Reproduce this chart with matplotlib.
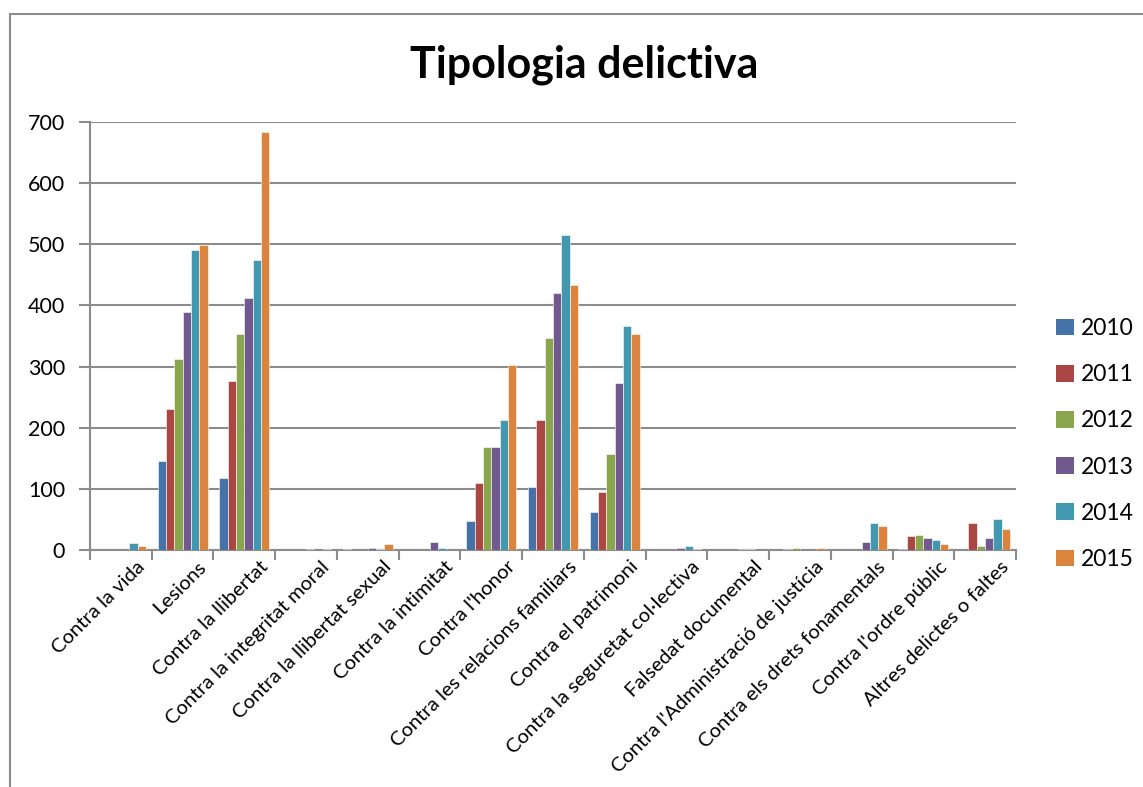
import matplotlib
matplotlib.use("Agg")
import matplotlib.pyplot as plt
import numpy as np
from matplotlib.patches import Rectangle, Patch
from matplotlib.transforms import ScaledTranslation

categories = ["Contra la vida", "Lesions", "Contra la llibertat", "Contra la integritat moral",
              "Contra la llibertat sexual", "Contra la intimitat", "Contra l'honor",
              "Contra les relacions familiars", "Contra el patrimoni",
              "Contra la seguretat col·lectiva", "Falsedat documental",
              "Contra l'Administració de justícia", "Contra els drets fonamentals",
              "Contra l'ordre públic", "Altres delictes o faltes"]
years = ["2010", "2011", "2012", "2013", "2014", "2015"]
v2010 = [0, 145, 117, 0, 2, 0, 47, 103, 62, 0, 0, 0, 0, 2, 0]
v2011 = [0, 230, 277, 0, 0, 0, 109, 213, 95, 0, 0, 1, 0, 23, 44]
v2012 = [0, 313, 354, 0, 0, 0, 168, 347, 157, 0, 0, 4, 0, 25, 7]
v2013 = [0, 389, 412, 1, 4, 13, 168, 421, 273, 4, 2, 0, 13, 20, 20]
v2014 = [12, 490, 474, 0, 2, 3, 213, 516, 367, 7, 1, 0, 44, 16, 51]
v2015 = [7, 499, 683, 1, 9, 0, 303, 433, 353, 2, 0, 4, 40, 10, 35]
series = [v2010, v2011, v2012, v2013, v2014, v2015]
colors = ["#4572A7", "#AA4643", "#89A54E", "#71588F", "#4198AF", "#DB843D"]
yticks = [0, 100, 200, 300, 400, 500, 600, 700]

plt.rcParams['font.family'] = ['Lato', 'DejaVu Sans']

W, H = 1143, 787
fig = plt.figure(figsize=(W / 100, H / 100), dpi=100)
fig.patch.set_facecolor("white")

# chart frame
fig.add_artist(Rectangle((10 / W, -0.1), 1.2, 1 - 14 / H + 0.1, transform=fig.transFigure,
                         fill=False, edgecolor="#8c8c8c", linewidth=1.5))

ax = fig.add_axes([90 / W, 1 - 550 / H, (1016 - 90) / W, (550 - 122) / H])
n = len(categories)
x = np.arange(n)
bw = 0.135
for i, (vals, c) in enumerate(zip(series, colors)):
    ax.bar(x + (i - 2.5) * bw, vals, width=bw, color=c, edgecolor="white",
           linewidth=0.4, zorder=3)

ax.set_xlim(-0.5, n - 0.5)
ax.set_ylim(0, 700)
ax.set_yticks(yticks)
ax.set_yticklabels([str(t) for t in yticks], fontsize=15.5)
ax.yaxis.grid(True, color="#8c8c8c", linewidth=1.5, zorder=0)
ax.set_axisbelow(True)
for s in ["top", "right"]:
    ax.spines[s].set_visible(False)
for s in ["left", "bottom"]:
    ax.spines[s].set_color("#8c8c8c")
    ax.spines[s].set_linewidth(1.5)
ax.tick_params(axis="y", length=8, width=1.5, color="#8c8c8c", pad=10)
ax.set_xticks(np.arange(n + 1) - 0.5, minor=False)
ax.set_xticklabels([])
ax.tick_params(axis="x", which="major", length=7, width=1.5, color="#8c8c8c")
ax.set_xticks(x, minor=True)
ax.set_xticklabels(categories, minor=True, rotation=45, ha="right", va="top",
                   rotation_mode="anchor", fontsize=14.6)
ax.tick_params(axis="x", which="minor", length=0, pad=0)
off = ScaledTranslation(15 / 100, -8 / 100, fig.dpi_scale_trans)
for lbl in ax.get_xticklabels(minor=True):
    lbl.set_transform(lbl.get_transform() + off)

fig.text(584 / W, 1 - 65 / H, "Tipologia delictiva", fontsize=31, fontweight="bold",
         ha="center", va="center")

handles = [Patch(facecolor=c, edgecolor="none") for c in colors]
fig.legend(handles, years, loc="center left", bbox_to_anchor=(1045 / W, 1 - 444 / H),
           frameon=False, fontsize=16.5, handlelength=0.75, handleheight=0.75,
           handletextpad=0.3, labelspacing=1.1, borderpad=0)

fig.savefig("out.png", dpi=100, facecolor="white")
